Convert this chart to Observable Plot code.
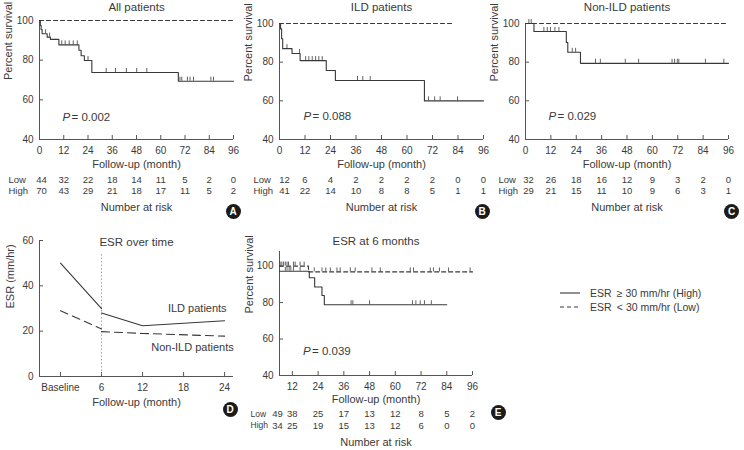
<!DOCTYPE html>
<html>
<head>
<meta charset="utf-8">
<script src="https://cdn.jsdelivr.net/npm/d3@7"></script>
<script src="https://cdn.jsdelivr.net/npm/@observablehq/plot@0.6"></script>
<style>
  body { margin: 0; background: #fff; }
  #fig { position: relative; width: 744px; height: 450px; overflow: hidden; color: #3a3a3a;
         font-family: "Liberation Sans Narrow", "Arial Narrow", "Liberation Sans", sans-serif; }
  .panel { position: absolute; }
  .badge { position: absolute; width: 15px; height: 15px; border-radius: 50%; background: #1b1b1b; color: #fff;
           font: bold 10px "Liberation Sans", sans-serif; display: flex; align-items: center; justify-content: center; }
</style>
</head>
<body>
<div id="fig"></div>
<script>
// ---------- shared axes ----------
const months = [0, 12, 24, 36, 48, 60, 72, 84, 96];
const landmarkMonths = [12, 24, 36, 48, 60, 72, 84, 96];
const survTicks = [40, 60, 80, 100];

// ---------- A: all patients ----------
const allHighT = [0, 0.4, 0.8, 1.3, 3.8, 5.4, 9.6, 19.5, 20.6, 22.2, 25.9, 68.7, 96];
const allHighS = [100, 97.5, 95.5, 93.3, 91.6, 90.5, 87.7, 85, 82.2, 79.8, 73.8, 69.4, 69.4];
const allHighCensor = [3, 5, 11, 12.7, 14.7, 16.7, 18.7, 24, 33, 37.6, 43, 48.1, 53.1, 69.5, 70.4, 73.2, 74.5, 76.2, 84.8, 86.1];
const allLowT = [0, 96];
const allLowS = [100, 100];
const allRiskLow = [44, 32, 22, 18, 14, 11, 5, 2, 0];
const allRiskHigh = [70, 43, 29, 21, 18, 17, 11, 5, 2];

// ---------- B: ILD patients ----------
const ildHighT = [0, 0.5, 1, 1.5, 5.9, 9.7, 22, 26.3, 68.2, 96];
const ildHighS = [100, 97.2, 92.1, 87, 84.5, 80.8, 75.7, 70.5, 60, 60];
const ildHighCensor = [3.5, 9.4, 12.3, 13.8, 15.4, 17, 18.5, 20.1, 36.7, 39.2, 42.7, 70.1, 73, 75.6, 83.8];
const ildLowT = [0, 82];
const ildLowS = [100, 100];
const ildRiskLow = [12, 6, 4, 2, 2, 2, 2, 0, 0];
const ildRiskHigh = [41, 22, 14, 10, 8, 8, 5, 1, 1];

// ---------- C: non-ILD patients ----------
const nonHighT = [0, 4, 19.3, 20, 26, 96];
const nonHighS = [100, 95.9, 90.2, 85.1, 79.4, 79.4];
const nonHighCensor = [1.6, 2.7, 8.7, 10.3, 11.8, 13.9, 15.8, 22.1, 23.7, 33.1, 35.4, 47.2, 53.5, 69.3, 70.5, 71.8, 72.5, 85.1, 93.8];
const nonLowT = [0, 95.6];
const nonLowS = [100, 100];
const nonRiskLow = [32, 26, 18, 16, 12, 9, 3, 2, 0];
const nonRiskHigh = [29, 21, 15, 11, 10, 9, 6, 3, 1];

// ---------- D: ESR over time ----------
const esrTicks = [0, 6, 12, 18, 24];
const ildEarlyT = [0, 6];
const ildEarlyV = [50, 29.9];
const ildLateT = [6, 12, 24];
const ildLateV = [28, 22.4, 24.6];
const nonEarlyT = [0, 6];
const nonEarlyV = [29, 21];
const nonLateT = [6, 12, 24];
const nonLateV = [19.8, 19, 17.8];

// ---------- E: ESR at 6 months (landmark) ----------
const lmHighT = [6, 19.9, 22.4, 25.8, 26.9, 84];
const lmHighS = [97.2, 93.6, 88.5, 83.9, 78.8, 78.8];
const lmHighCensor = [8.7, 9.5, 10.5, 11.3, 12.5, 15.6, 39.4, 40.2, 48, 68, 69.6, 71.6, 73.6, 76.8];
const lmLowT = [6, 19.5, 96];
const lmLowS = [100, 96.8, 96.8];
const lmLowCensor = [6.3, 7.1, 7.9, 8.7, 9.5, 10.2, 12.5, 13.3, 15.6, 17.5, 22.2, 25.8, 27.6, 29.7, 32.8, 34.3, 39, 41.3, 49.1, 53, 67, 68.5, 76.3, 77.8, 80.6, 84.8, 94.9];
const lmRiskT = [6, 12, 24, 36, 48, 60, 72, 84, 96];
const lmRiskLow = [49, 38, 25, 17, 13, 12, 8, 5, 2];
const lmRiskHigh = [34, 25, 19, 15, 13, 12, 6, 0, 0];

// ---------- helpers ----------
const FONT = '"Liberation Sans Narrow", "Arial Narrow", "Liberation Sans", sans-serif';
const INK = "#3a3a3a";
const AXIS = "#555";
const LINE = "#383838";

const rows = (T, V) => T.map((t, i) => ({t, v: V[i]}));
const stepAt = (T, S, x) => { let v = S[0]; T.forEach((t, i) => { if (t <= x) v = S[i]; }); return v; };
const censorRows = (T, S, C) => C.map(t => ({t, v: stepAt(T, S, t)}));

const fig = document.getElementById("fig");
function place(node, left, top) {
  node.classList.add("panel");
  node.style.left = left + "px";
  node.style.top = top + "px";
  fig.appendChild(node);
}

function frameMarks(w, h, m, xDomain, yDomain, xTicks, yTicks, xFormat) {
  const fw = w - m.l - m.r, fh = h - m.t - m.b;
  return [
    Plot.ruleY([yDomain[0]], {stroke: AXIS}),
    Plot.ruleX([xDomain[0]], {stroke: AXIS}),
    Plot.ruleX(xTicks, {stroke: AXIS, insetTop: fh - 4}),
    Plot.ruleY(yTicks, {stroke: AXIS, insetRight: fw - 4}),
    Plot.axisX({ticks: xTicks, tickSize: 0, tickPadding: 7, label: null, tickFormat: xFormat, fill: INK}),
    Plot.axisY({ticks: yTicks, tickSize: 0, tickPadding: 6, label: null, fill: INK})
  ];
}

function survivalPanel(p) {
  const m = p.margin;
  const high = rows(p.highT, p.highS);
  const low = rows(p.lowT, p.lowS);
  const cens = [...censorRows(p.highT, p.highS, p.highCensor), ...censorRows(p.lowT, p.lowS, p.lowCensor || [])];
  const risk = p.riskT.map((t, i) => ({t, low: p.riskLow[i], high: p.riskHigh[i]}));
  const lead = risk.slice(0, 1), rest = risk.slice(1);
  const txt = {fill: INK, lineAnchor: "middle"};
  const rowFont = p.rowFont || 9.5;
  const riskRow = (key, dy) => [
    Plot.text(lead, {...txt, x: "t", text: key, frameAnchor: "bottom", dx: p.leadDx || 0, dy, fontSize: 9.5}),
    Plot.text(rest, {...txt, x: "t", text: key, frameAnchor: "bottom", dy, fontSize: 9.5})
  ];
  return Plot.plot({
    width: p.width, height: p.height,
    marginLeft: m.l, marginRight: m.r, marginTop: m.t, marginBottom: m.b,
    x: {domain: p.xDomain, label: null},
    y: {domain: p.yDomain, label: null},
    style: {fontFamily: FONT, fontSize: "10px", color: INK, background: "transparent", overflow: "visible"},
    marks: [
      ...frameMarks(p.width, p.height, m, p.xDomain, p.yDomain, p.xTicks, survTicks),
      Plot.line(low, {x: "t", y: "v", curve: "step-after", stroke: LINE, strokeWidth: 1.1, strokeDasharray: "4,3"}),
      Plot.line(high, {x: "t", y: "v", curve: "step-after", stroke: LINE, strokeWidth: 1.1}),
      Plot.ruleX(cens, {x: "t", y1: "v", y2: "v", insetTop: -4, stroke: LINE, strokeWidth: 0.8}),
      Plot.text([p.title], {...txt, frameAnchor: "top", dy: p.titleDy, fontSize: 11.5}),
      Plot.text(["Percent survival"], {...txt, frameAnchor: "left", rotate: -90, dx: p.ylabDx, fontSize: 11}),
      Plot.text(["Follow-up (month)"], {...txt, frameAnchor: "bottom", dy: p.lab.x, fontSize: 11}),
      Plot.text(["P"], {...txt, frameAnchor: "bottom-left", textAnchor: "start", dx: p.pDx, dy: p.pDy, fontSize: 11.5, fontStyle: "italic"}),
      Plot.text([`= ${p.pValue}`], {...txt, frameAnchor: "bottom-left", textAnchor: "start", dx: p.pDx + 9, dy: p.pDy, fontSize: 11.5}),
      ...riskRow("low", p.lab.low),
      ...riskRow("high", p.lab.high),
      Plot.text(["Low"], {...txt, frameAnchor: "bottom-left", textAnchor: "start", dx: p.rowDx, dy: p.lab.low, fontSize: rowFont}),
      Plot.text(["High"], {...txt, frameAnchor: "bottom-left", textAnchor: "start", dx: p.rowDx, dy: p.lab.high, fontSize: rowFont}),
      Plot.text(["Number at risk"], {...txt, frameAnchor: "bottom", dy: p.lab.n, fontSize: 11})
    ]
  });
}

const topLab = {x: 25, low: 40, high: 51, n: 68};

place(survivalPanel({
  width: 240, height: 225, margin: {l: 39, r: 7, t: 20, b: 86},
  xDomain: [0, 96], yDomain: [40, 100], xTicks: months,
  highT: allHighT, highS: allHighS, highCensor: allHighCensor, lowT: allLowT, lowS: allLowS,
  riskT: months, riskLow: allRiskLow, riskHigh: allRiskHigh, leadDx: 2,
  title: "All patients", titleDy: -13, ylabDx: -31, pValue: "0.002", pDx: 23, pDy: -22.3, rowDx: -31, lab: topLab
}), 0, 0);

place(survivalPanel({
  width: 250, height: 225, margin: {l: 39, r: 7, t: 23, b: 86},
  xDomain: [0, 96], yDomain: [40, 100], xTicks: months,
  highT: ildHighT, highS: ildHighS, highCensor: ildHighCensor, lowT: ildLowT, lowS: ildLowS,
  riskT: months, riskLow: ildRiskLow, riskHigh: ildRiskHigh, leadDx: 5,
  title: "ILD patients", titleDy: -16, ylabDx: -31, pValue: "0.088", pDx: 24, pDy: -22.7, rowDx: -26, lab: topLab
}), 240, 0);

place(survivalPanel({
  width: 254, height: 225, margin: {l: 35, r: 16, t: 23, b: 86},
  xDomain: [0, 96], yDomain: [40, 100], xTicks: months,
  highT: nonHighT, highS: nonHighS, highCensor: nonHighCensor, lowT: nonLowT, lowS: nonLowS,
  riskT: months, riskLow: nonRiskLow, riskHigh: nonRiskHigh, leadDx: 3,
  title: "Non-ILD patients", titleDy: -16, ylabDx: -31.5, pValue: "0.029", pDx: 23, pDy: -22.7, rowDx: -27, lab: topLab
}), 490, 0);

place(survivalPanel({
  width: 260, height: 225, margin: {l: 39, r: 28, t: 26, b: 75},
  xDomain: [6, 96], yDomain: [40, 108], xTicks: landmarkMonths,
  highT: lmHighT, highS: lmHighS, highCensor: lmHighCensor, lowT: lmLowT, lowS: lmLowS, lowCensor: lmLowCensor,
  riskT: lmRiskT, riskLow: lmRiskLow, riskHigh: lmRiskHigh, leadDx: -2, rowFont: 8.5,
  title: "ESR at 6 months", titleDy: -10, ylabDx: -30, pValue: "0.039", pDx: 23.5, pDy: -24, rowDx: -29,
  lab: {x: 24, low: 38.3, high: 50, n: 67.3}
}), 240, 225);

// ---------- D panel ----------
(function () {
  const w = 240, h = 225, m = {l: 39, r: 7, t: 15, b: 74};
  const xDomain = [-3.07, 25.3], yDomain = [0, 60];
  const txt = {fill: INK, lineAnchor: "middle"};
  const chart = Plot.plot({
    width: w, height: h, marginLeft: m.l, marginRight: m.r, marginTop: m.t, marginBottom: m.b,
    x: {domain: xDomain, label: null},
    y: {domain: yDomain, label: null},
    style: {fontFamily: FONT, fontSize: "10px", color: INK, background: "transparent", overflow: "visible"},
    marks: [
      ...frameMarks(w, h, m, xDomain, yDomain, esrTicks, [0, 20, 40, 60], d => d === 0 ? "Baseline" : d),
      Plot.ruleX([6], {stroke: "#8a8a8a", strokeWidth: 0.8, strokeDasharray: "1.5,2", insetTop: 14}),
      Plot.line(rows(ildEarlyT, ildEarlyV), {x: "t", y: "v", stroke: LINE, strokeWidth: 1.1}),
      Plot.line(rows(ildLateT, ildLateV), {x: "t", y: "v", stroke: LINE, strokeWidth: 1.1}),
      Plot.line(rows(nonEarlyT, nonEarlyV), {x: "t", y: "v", stroke: LINE, strokeWidth: 1.1, strokeDasharray: "8,5"}),
      Plot.line(rows(nonLateT, nonLateV), {x: "t", y: "v", stroke: LINE, strokeWidth: 1.1, strokeDasharray: "8,5"}),
      Plot.text(["ESR over time"], {...txt, frameAnchor: "top", dy: 2, fontSize: 11.5}),
      Plot.text(["ILD patients"], {...txt, x: 20, y: 30, fontSize: 11}),
      Plot.text(["Non-ILD patients"], {...txt, x: 19.3, y: 12.6, fontSize: 11}),
      Plot.text(["ESR (mm/hr)"], {...txt, frameAnchor: "left", rotate: -90, dx: -29, fontSize: 11}),
      Plot.text(["Follow-up (month)"], {...txt, frameAnchor: "bottom", dy: 25.7, fontSize: 11})
    ]
  });
  place(chart, 0, 225);
})();

// ---------- legend ----------
(function () {
  const items = [
    {dash: null, label: "ESR\u2002\u2265 30 mm/hr (High)"},
    {dash: "4,3", label: "ESR\u2002< 30 mm/hr (Low)"}
  ];
  const svg = d3.create("svg").attr("width", 185).attr("height", 34)
    .style("font-family", FONT).style("font-size", "10.5px");
  items.forEach((d, i) => {
    const y = 8 + i * 14;
    svg.append("line").attr("x1", 5).attr("x2", 25).attr("y1", y).attr("y2", y)
      .attr("stroke", LINE).attr("stroke-width", 1.1).attr("stroke-dasharray", d.dash);
    svg.append("text").attr("x", 35).attr("y", y).attr("dy", "0.35em").attr("fill", INK).text(d.label);
  });
  place(svg.node(), 555, 285);
})();

// ---------- panel badges ----------
[["A", 233, 211], ["B", 482, 211], ["C", 731.5, 211], ["D", 230, 409], ["E", 498, 412.5]].forEach(([k, x, y]) => {
  const b = document.createElement("div");
  b.className = "badge";
  b.textContent = k;
  b.style.left = (x - 7.5) + "px";
  b.style.top = (y - 7.5) + "px";
  fig.appendChild(b);
});
</script>
</body>
</html>
